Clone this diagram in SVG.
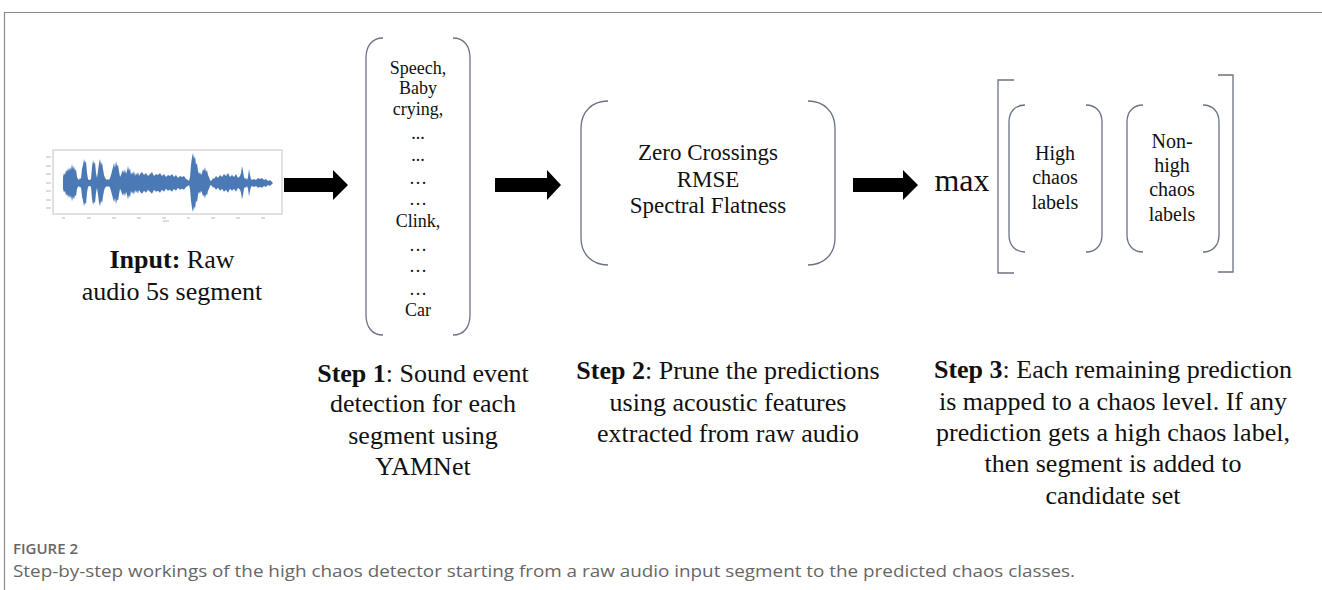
<svg xmlns="http://www.w3.org/2000/svg" width="1322" height="590" viewBox="0 0 1322 590">
<style>
.serif{font-family:"Liberation Serif","Times New Roman",serif;fill:#111;text-anchor:middle}
.paren{fill:none;stroke:#6a7284;stroke-width:1.3}
.arrow{fill:#000}
.cap{font-family:"Open Sans","Noto Sans",sans-serif;fill:#666}
</style>
<defs>
<path id="wave" d="M63,0 L63,-6 64,-10 65,-8 66,-13 67,-11 68,-15 69,-12 70,-16 71,-13 72,-19 73,-14 74,-17 75,-12 76,-14 77,-6 78,-4 79,-3 80,-5 81,-4 82,-14 83,-18 84,-24 85,-20 86,-22 87,-10 88,-4 89,-3 90,-3 91,-4 92,-16 93,-23 94,-19 95,-21 96,-10 97,-5 98,-12 99,-20 100,-24 101,-18 102,-21 103,-14 104,-8 105,-5 106,-4 107,-3 108,-4 109,-3 110,-5 111,-8 112,-12 113,-16 114,-20 115,-15 116,-22 117,-17 118,-18 119,-12 120,-6 121,-8 122,-11 123,-13 124,-10 125,-14 126,-9 127,-12 128,-17 129,-12 130,-15 131,-8 132,-11 133,-9 134,-12 135,-7 136,-10 137,-8 138,-11 139,-7 140,-9 142,-11 144,-8 146,-10 148,-7 150,-9 152,-11 154,-7 156,-9 158,-8 160,-10 162,-7 164,-9 166,-6 168,-8 170,-7 172,-9 174,-6 176,-8 178,-5 180,-7 182,-6 184,-7 186,-4 188,-3 189,-2 190,-6 191,-18 192,-26 193,-30 194,-24 195,-27 196,-18 197,-20 198,-12 199,-9 200,-11 201,-8 202,-10 203,-14 204,-12 205,-16 206,-11 207,-13 208,-8 209,-6 210,-3 211,-2 212,-3 213,-5 214,-4 216,-7 218,-5 220,-8 222,-6 224,-9 226,-7 228,-10 230,-6 232,-8 234,-6 236,-9 238,-5 240,-7 241,-10 242,-17 243,-12 244,-6 245,-4 246,-5 247,-3 248,-6 249,-14 250,-8 251,-4 252,-3 254,-4 256,-3 258,-5 260,-4 262,-5 264,-3 266,-4 268,-2 270,-3 272,-1 273,0 Z"/>
</defs>
<rect width="1322" height="590" fill="#fff"/>
<path d="M4.5,590 V12.5 H1322" fill="none" stroke="#8a8a8a" stroke-width="1.2"/>

<g id="input">
  <rect x="53" y="150" width="229" height="64" fill="#fff" stroke="#d8d8d8" stroke-width="1.5"/>
  <g fill="#4b79b6">
    <use href="#wave" transform="translate(0,183)"/>
    <use href="#wave" transform="translate(0,183) scale(1,-0.97)"/>
  </g>
  <g stroke="#bbb" stroke-width="1">
    <path d="M46,157h5M46,166h5M46,174h5M46,183h5M46,191h5M46,200h5M46,208h5"/>
    <path d="M62,218h3M87,218h4M112,218h4M137,218h4M162,218h4M187,218h3M211,218h4M236,218h4M261,218h4M163,221h6"/>
  </g>
  <text class="serif" x="172" y="268" font-size="26"><tspan font-weight="bold">Input:</tspan> Raw</text>
  <text class="serif" x="172" y="300" font-size="26">audio 5s segment</text>
</g>

<g id="step1">
  <path class="paren" d="M383,38 C372,38 366,46 366,58 V315 C366,327 372,335 383,335"/>
  <path class="paren" d="M453,38 C464,38 470,46 470,58 V315 C470,327 464,335 453,335"/>
  <g class="serif" font-size="18">
    <text x="418" y="74">Speech,</text>
    <text x="418" y="94">Baby</text>
    <text x="418" y="115">crying,</text>
    <text x="418" y="139">...</text>
    <text x="418" y="161">...</text>
    <text x="418" y="184">…</text>
    <text x="418" y="205">…</text>
    <text x="418" y="227">Clink,</text>
    <text x="418" y="251">…</text>
    <text x="418" y="272">…</text>
    <text x="418" y="295">…</text>
    <text x="418" y="316">Car</text>
  </g>
  <text class="serif" x="423" y="382" font-size="26"><tspan font-weight="bold">Step 1</tspan>: Sound event</text>
  <text class="serif" x="423" y="412" font-size="26">detection for each</text>
  <text class="serif" x="423" y="444" font-size="26">segment using</text>
  <text class="serif" x="423" y="475" font-size="26">YAMNet</text>
</g>

<g id="step2">
  <path class="paren" d="M608,101 C592,101 581,112 581,128 V238 C581,254 592,265 608,265"/>
  <path class="paren" d="M808,101 C824,101 835,112 835,128 V238 C835,254 824,265 808,265"/>
  <g class="serif" font-size="23">
    <text x="708" y="160">Zero Crossings</text>
    <text x="708" y="187">RMSE</text>
    <text x="708" y="213">Spectral Flatness</text>
  </g>
  <text class="serif" x="728" y="379" font-size="26"><tspan font-weight="bold">Step 2</tspan>: Prune the predictions</text>
  <text class="serif" x="728" y="411" font-size="26">using acoustic features</text>
  <text class="serif" x="728" y="442" font-size="26">extracted from raw audio</text>
</g>

<g id="step3">
  <text class="serif" x="962" y="191" font-size="32">max</text>
  <path class="paren" d="M1014,80 H998 V273 H1014"/>
  <path class="paren" d="M1218,75 H1233 V272 H1218"/>
  <g id="high">
    <path class="paren" d="M1025,105 C1015,105 1009,112 1009,122 V235 C1009,245 1015,252 1025,252"/>
    <path class="paren" d="M1086,105 C1096,105 1102,112 1102,122 V235 C1102,245 1096,252 1086,252"/>
    <g class="serif" font-size="20">
      <text x="1055" y="160">High</text>
      <text x="1055" y="184">chaos</text>
      <text x="1055" y="209">labels</text>
    </g>
  </g>
  <g id="nonhigh">
    <path class="paren" d="M1143,105 C1133,105 1127,112 1127,122 V235 C1127,245 1133,252 1143,252"/>
    <path class="paren" d="M1203,105 C1213,105 1219,112 1219,122 V235 C1219,245 1213,252 1203,252"/>
    <g class="serif" font-size="20">
      <text x="1172" y="148">Non-</text>
      <text x="1172" y="172">high</text>
      <text x="1172" y="196">chaos</text>
      <text x="1172" y="221">labels</text>
    </g>
  </g>
  <text class="serif" x="1113" y="378" font-size="26"><tspan font-weight="bold">Step 3</tspan>: Each remaining prediction</text>
  <text class="serif" x="1113" y="410" font-size="26">is mapped to a chaos level. If any</text>
  <text class="serif" x="1113" y="441" font-size="26">prediction gets a high chaos label,</text>
  <text class="serif" x="1113" y="472" font-size="26">then segment is added to</text>
  <text class="serif" x="1113" y="504" font-size="26">candidate set</text>
</g>

<g id="connectors">
  <polygon class="arrow" points="284,178 333,178 333,170 348,185 333,200 333,192 284,192"/>
  <polygon class="arrow" points="495,178 547,178 547,170 561,185 547,200 547,192 495,192"/>
  <polygon class="arrow" points="853,178 903,178 903,170 918,185 903,200 903,192 853,192"/>
</g>

<text class="cap" x="13" y="554" font-size="15" font-weight="600">FIGURE 2</text>
<text class="cap" x="13" y="577" font-size="16" textLength="1062" lengthAdjust="spacingAndGlyphs">Step-by-step workings of the high chaos detector starting from a raw audio input segment to the predicted chaos classes.</text>
</svg>
